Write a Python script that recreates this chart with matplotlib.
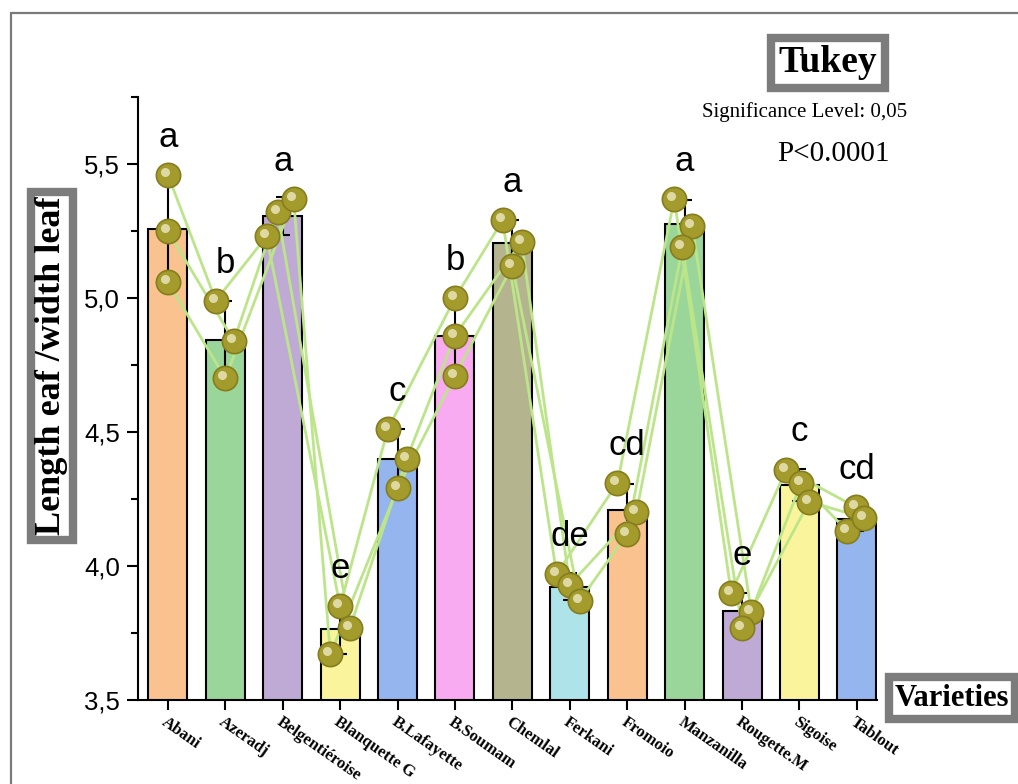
import numpy as np
import matplotlib
matplotlib.use("Agg")
import matplotlib.pyplot as plt
from matplotlib.patches import Rectangle
from matplotlib.ticker import FuncFormatter, MultipleLocator
from matplotlib.transforms import ScaledTranslation

# ---------------- data ----------------
varieties = ["Abani", "Azeradj", "Belgentiéroise", "Blanquette G", "B.Lafayette",
             "B.Soumam", "Chemlal", "Ferkani", "Fromoio", "Manzanilla",
             "Rougette.M", "Sigoise", "Tablout"]
rep1 = [5.46, 4.99, 5.23, 3.85, 4.51, 5.00, 5.29, 3.97, 4.31, 5.37, 3.90, 4.36, 4.22]
rep2 = [5.25, 4.84, 5.32, 3.77, 4.40, 4.86, 5.21, 3.93, 4.20, 5.27, 3.83, 4.31, 4.13]
rep3 = [5.06, 4.70, 5.37, 3.67, 4.29, 4.71, 5.12, 3.87, 4.12, 5.19, 3.77, 4.24, 4.18]
letters = ["a", "b", "a", "e", "c", "b", "a", "de", "cd", "a", "e", "c", "cd"]
yticks = [3.5, 4.0, 4.5, 5.0, 5.5]

# ---------------- style ----------------
bar_colors = ["#F9C28F", "#9AD69A", "#BFAAD6", "#FAF59C", "#95B5EE", "#F9ABF2",
              "#B4B48F", "#AEE3E9", "#F9C28F", "#9AD69A", "#BFAAD6", "#FAF59C", "#95B5EE"]
jitter1 = [0, -0.165, -0.28, 0, -0.17, 0, -0.17, -0.23, -0.17, -0.18, -0.19, -0.23, -0.02]
jitter2 = [0, 0.15, -0.09, 0.17, 0.16, 0, 0.16, 0, 0.16, 0.13, 0.16, 0.03, -0.17]
jitter3 = [0, 0, 0.19, -0.17, 0, 0, 0, 0.17, 0, -0.04, 0, 0.17, 0.12]

reps = np.array([rep1, rep2, rep3])
means = reps.mean(axis=0)
sds = reps.std(axis=0, ddof=1)
x = np.arange(len(varieties))

W, H = 1018, 784
fig = plt.figure(figsize=(W / 100, H / 100), dpi=100)
ax = fig.add_axes([138 / W, 1 - 700 / H, (877 - 138) / W, (700 - 97) / H])

ax.bar(x, means, width=0.68, bottom=0, color=bar_colors, edgecolor="black",
       linewidth=1.5, zorder=1)
ax.errorbar(x, means, yerr=sds, fmt="none", ecolor="black", elinewidth=1.5,
            capsize=5, capthick=1.5, zorder=2)

hl = ax.transData + ScaledTranslation(-3 / 100, 3 / 100, fig.dpi_scale_trans)
for r, j in zip([rep1, rep2, rep3], [jitter1, jitter2, jitter3]):
    xs = x + np.array(j)
    ax.plot(xs, r, color="#BCE58A", lw=2.0, zorder=3)
for r, j in zip([rep1, rep2, rep3], [jitter1, jitter2, jitter3]):
    xs = x + np.array(j)
    ax.plot(xs, r, ls="none", marker="o", ms=17.5, mfc="#A39B2C", mec="#857D1E",
            mew=1.2, zorder=4)
    ax.plot(xs, r, ls="none", marker="o", ms=6.5, mfc="#E9E5B8", mec="none",
            alpha=0.85, zorder=5, transform=hl)

for xi, top, lab in zip(x, reps.max(axis=0), letters):
    ax.text(xi, top + 0.105, lab, ha="center", va="baseline",
            fontsize=25, family="Liberation Sans", zorder=6)

ax.set_xlim(-0.52, 12.35)
ax.set_ylim(3.5, 5.75)
ax.set_yticks(yticks)
ax.yaxis.set_minor_locator(MultipleLocator(0.25))
ax.yaxis.set_major_formatter(FuncFormatter(lambda v, p: f"{v:.1f}".replace(".", ",")))
ax.set_xticks(x)
ax.set_xticklabels(varieties, rotation=-35, ha="left", va="top",
                   rotation_mode="anchor", fontsize=12, fontweight="bold",
                   family="Liberation Serif")
for lab in ax.get_yticklabels():
    lab.set_family("Liberation Sans")
    lab.set_fontsize(18.5)
ax.tick_params(axis="y", which="major", direction="out", length=8, width=1.5, pad=5,
               colors="black")
ax.tick_params(axis="y", which="minor", direction="out", length=5, width=1.5)
ax.tick_params(axis="x", which="major", direction="out", length=7, width=1.5, pad=3)
for s in ["top", "right"]:
    ax.spines[s].set_visible(False)
for s in ["left", "bottom"]:
    ax.spines[s].set_linewidth(1.5)

# outer frame
fig.add_artist(Rectangle((11 / W, -0.1), 1.2, 1 - 13 / H + 0.1, transform=fig.transFigure,
                         fill=False, edgecolor="#7a7a7a", lw=1.6))

box = dict(boxstyle="square,pad=0.2", facecolor="white", edgecolor="#7c7c7c", linewidth=6)
box_y = dict(boxstyle="square,pad=0.12", facecolor="white", edgecolor="#7c7c7c", linewidth=6)
fig.text(828 / W, 1 - 63 / H, "Tukey", ha="center", va="center", fontsize=27,
         fontweight="bold", family="Liberation Serif", bbox=box)
fig.text(805 / W, 1 - 112 / H, "Significance Level: 0,05", ha="center", va="center",
         fontsize=15, family="Liberation Serif")
fig.text(833 / W, 1 - 154 / H, "P<0.0001", ha="center", va="center", fontsize=21,
         family="Liberation Serif")
fig.text(952 / W, 1 - 698 / H, "Varieties", ha="center", va="center", fontsize=22,
         fontweight="bold", family="Liberation Serif", bbox=box)
fig.text(52 / W, 1 - 366 / H, "Length eaf /width leaf", ha="center", va="center",
         rotation=90, fontsize=26, fontweight="bold", family="Liberation Serif", bbox=box_y)

fig.savefig("out.png", dpi=100)
